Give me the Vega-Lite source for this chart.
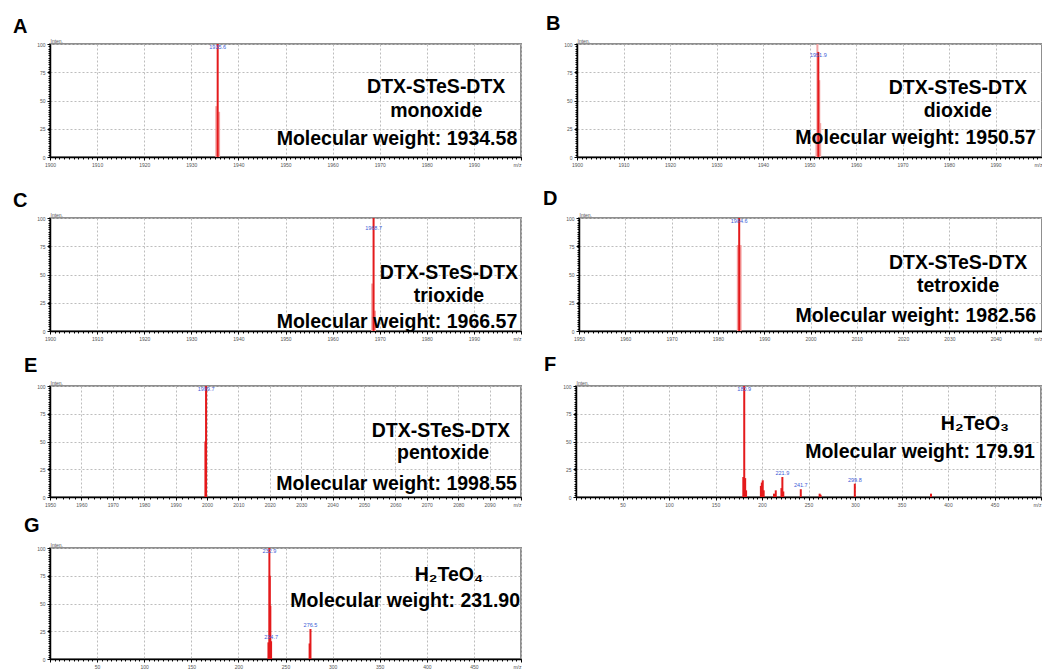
{
  "$schema": "https://vega.github.io/schema/vega-lite/v6.json",
  "background": "white",
  "padding": {"left": 12, "top": 13, "right": 0, "bottom": 0},
  "spacing": 7,
  "datasets": {
    "spectrumA": [
      {"mz": 1935.3, "inten": 45, "kind": "profile", "picked": false},
      {"mz": 1935.9, "inten": 40, "kind": "profile", "picked": false},
      {"mz": 1935.6, "inten": 100, "kind": "centroid", "picked": true}
    ],
    "spectrumB": [
      {"mz": 1951.5, "inten": 20, "kind": "profile", "picked": false},
      {"mz": 1951.7, "inten": 100, "kind": "profile", "picked": false},
      {"mz": 1952.1, "inten": 68, "kind": "profile", "picked": false},
      {"mz": 1952.3, "inten": 30, "kind": "profile", "picked": false},
      {"mz": 1951.9, "inten": 93, "kind": "centroid", "picked": true}
    ],
    "spectrumC": [
      {"mz": 1968.4, "inten": 42, "kind": "profile", "picked": false},
      {"mz": 1969.0, "inten": 18, "kind": "profile", "picked": false},
      {"mz": 1968.7, "inten": 100, "kind": "centroid", "picked": true}
    ],
    "spectrumD": [
      {"mz": 1984.3, "inten": 76, "kind": "profile", "picked": false},
      {"mz": 1984.9, "inten": 76, "kind": "profile", "picked": false},
      {"mz": 1984.6, "inten": 100, "kind": "centroid", "picked": true}
    ],
    "spectrumE": [
      {"mz": 1999.5, "inten": 50, "kind": "centroid", "picked": false},
      {"mz": 1999.7, "inten": 100, "kind": "centroid", "picked": true}
    ],
    "spectrumF": [
      {"mz": 179.9, "inten": 18, "kind": "centroid", "picked": false},
      {"mz": 180.9, "inten": 100, "kind": "centroid", "picked": true},
      {"mz": 181.9, "inten": 17, "kind": "centroid", "picked": false},
      {"mz": 182.9, "inten": 6, "kind": "centroid", "picked": false},
      {"mz": 198.8, "inten": 10, "kind": "centroid", "picked": false},
      {"mz": 199.8, "inten": 13, "kind": "centroid", "picked": false},
      {"mz": 200.8, "inten": 15, "kind": "centroid", "picked": false},
      {"mz": 201.8, "inten": 6, "kind": "centroid", "picked": false},
      {"mz": 212.9, "inten": 3, "kind": "centroid", "picked": false},
      {"mz": 214.8, "inten": 6, "kind": "centroid", "picked": false},
      {"mz": 220.9, "inten": 8, "kind": "centroid", "picked": false},
      {"mz": 221.9, "inten": 18, "kind": "centroid", "picked": true},
      {"mz": 222.9, "inten": 5, "kind": "centroid", "picked": false},
      {"mz": 241.7, "inten": 7, "kind": "centroid", "picked": true},
      {"mz": 262.0, "inten": 3, "kind": "centroid", "picked": false},
      {"mz": 263.0, "inten": 2, "kind": "centroid", "picked": false},
      {"mz": 299.8, "inten": 12, "kind": "centroid", "picked": true},
      {"mz": 381.7, "inten": 3, "kind": "centroid", "picked": false}
    ],
    "spectrumG": [
      {"mz": 231.9, "inten": 15, "kind": "centroid", "picked": false},
      {"mz": 232.9, "inten": 100, "kind": "centroid", "picked": true},
      {"mz": 233.3, "inten": 75, "kind": "centroid", "picked": false},
      {"mz": 233.9, "inten": 48, "kind": "centroid", "picked": false},
      {"mz": 234.7, "inten": 16, "kind": "centroid", "picked": true},
      {"mz": 275.6, "inten": 14, "kind": "centroid", "picked": false},
      {"mz": 276.5, "inten": 27, "kind": "centroid", "picked": true}
    ]
  },
  "vconcat": [
    {
      "bounds": "flush",
      "spacing": 56,
      "hconcat": [
        {
          "width": 471, "height": 113,
          "title": {"text": "A", "dx": -37, "offset": 1},
          "data": {"name": "spectrumA"},
          "resolve": {"axis": {"x": "independent", "y": "independent"}},
          "layer": [
            {
              "mark": {"type": "rule", "strokeWidth": 2},
              "encoding": {
                "x": {"field": "mz", "type": "quantitative", "scale": {"domain": [1900, 2000], "nice": false, "zero": false},
                      "axis": {"orient": "bottom", "values": [1900, 1910, 1920, 1930, 1940, 1950, 1960, 1970, 1980, 1990, 2000], "format": "d", "grid": true, "title": null, "labelExpr": "datum.value == 2000 ? 'm/z' : datum.label", "labelAlign": {"condition": {"test": "datum.value == 2000", "value": "right"}, "value": "center"}}},
                "y": {"field": "inten", "type": "quantitative", "scale": {"domain": [0, 100], "nice": false},
                      "axis": {"orient": "left", "values": [0, 25, 50, 75, 100], "grid": true, "title": "Inten."}},
                "y2": {"datum": 0},
                "color": {"field": "kind", "type": "nominal", "scale": {"domain": ["profile", "centroid"], "range": ["#f4a3a3", "#e41a1c"]}, "legend": null}
              }
            },
            {
              "mark": {"type": "point", "opacity": 0},
              "encoding": {
                "x": {"field": "mz", "type": "quantitative", "axis": {"orient": "bottom", "tickCount": 100, "labels": false, "domain": false, "grid": false, "tickSize": 2, "title": " ", "titleFontSize": 1, "titlePadding": 19}},
                "y": {"field": "inten", "type": "quantitative", "axis": {"orient": "left", "tickCount": 40, "labels": false, "domain": false, "grid": false, "tickSize": 2, "title": null}}
              }
            },
            {
              "transform": [{"filter": "datum.picked && datum.inten >= 90"}],
              "mark": {"type": "text", "style": "peaklabel", "color": "#3b5bd6", "baseline": "top", "dy": 1},
              "encoding": {
                "x": {"field": "mz", "type": "quantitative", "axis": null},
                "y": {"field": "inten", "type": "quantitative", "axis": null},
                "text": {"field": "mz", "type": "quantitative", "format": ".1f"}
              }
            },
            {
              "data": {"values": [{}]},
              "mark": {"type": "text", "style": "note", "text": "DTX-STeS-DTX", "align": "center"},
              "encoding": {"x": {"datum": 1982, "type": "quantitative", "axis": null}, "y": {"datum": 56.6, "type": "quantitative", "axis": null}}
            },
            {
              "data": {"values": [{}]},
              "mark": {"type": "text", "style": "note", "text": "monoxide", "align": "center"},
              "encoding": {"x": {"datum": 1982, "type": "quantitative", "axis": null}, "y": {"datum": 35.4, "type": "quantitative", "axis": null}}
            },
            {
              "data": {"values": [{}]},
              "mark": {"type": "text", "style": "note", "text": "Molecular weight: 1934.58", "align": "right"},
              "encoding": {"x": {"datum": 1999.2, "type": "quantitative", "axis": null}, "y": {"datum": 10.6, "type": "quantitative", "axis": null}}
            }
          ]
        },
        {
          "width": 465, "height": 113,
          "title": {"text": "B", "dx": -31, "offset": 4},
          "data": {"name": "spectrumB"},
          "resolve": {"axis": {"x": "independent", "y": "independent"}},
          "layer": [
            {
              "mark": {"type": "rule", "strokeWidth": 2},
              "encoding": {
                "x": {"field": "mz", "type": "quantitative", "scale": {"domain": [1900, 2000], "nice": false, "zero": false},
                      "axis": {"orient": "bottom", "values": [1900, 1910, 1920, 1930, 1940, 1950, 1960, 1970, 1980, 1990, 2000], "format": "d", "grid": true, "title": null, "labelExpr": "datum.value == 2000 ? 'm/z' : datum.label", "labelAlign": {"condition": {"test": "datum.value == 2000", "value": "right"}, "value": "center"}}},
                "y": {"field": "inten", "type": "quantitative", "scale": {"domain": [0, 100], "nice": false},
                      "axis": {"orient": "left", "values": [0, 25, 50, 75, 100], "grid": true, "title": "Inten."}},
                "y2": {"datum": 0},
                "color": {"field": "kind", "type": "nominal", "scale": {"domain": ["profile", "centroid"], "range": ["#f4a3a3", "#e41a1c"]}, "legend": null}
              }
            },
            {
              "mark": {"type": "point", "opacity": 0},
              "encoding": {
                "x": {"field": "mz", "type": "quantitative", "axis": {"orient": "bottom", "tickCount": 100, "labels": false, "domain": false, "grid": false, "tickSize": 2, "title": " ", "titleFontSize": 1, "titlePadding": 19}},
                "y": {"field": "inten", "type": "quantitative", "axis": {"orient": "left", "tickCount": 40, "labels": false, "domain": false, "grid": false, "tickSize": 2, "title": null}}
              }
            },
            {
              "transform": [{"filter": "datum.picked && datum.inten >= 90"}],
              "mark": {"type": "text", "style": "peaklabel", "color": "#3b5bd6", "baseline": "top", "dy": 1},
              "encoding": {
                "x": {"field": "mz", "type": "quantitative", "axis": null},
                "y": {"field": "inten", "type": "quantitative", "axis": null},
                "text": {"field": "mz", "type": "quantitative", "format": ".1f"}
              }
            },
            {
              "data": {"values": [{}]},
              "mark": {"type": "text", "style": "note", "text": "DTX-STeS-DTX", "align": "center"},
              "encoding": {"x": {"datum": 1981.9, "type": "quantitative", "axis": null}, "y": {"datum": 55.8, "type": "quantitative", "axis": null}}
            },
            {
              "data": {"values": [{}]},
              "mark": {"type": "text", "style": "note", "text": "dioxide", "align": "center"},
              "encoding": {"x": {"datum": 1981.9, "type": "quantitative", "axis": null}, "y": {"datum": 35.4, "type": "quantitative", "axis": null}}
            },
            {
              "data": {"values": [{}]},
              "mark": {"type": "text", "style": "note", "text": "Molecular weight: 1950.57", "align": "right"},
              "encoding": {"x": {"datum": 1998.7, "type": "quantitative", "axis": null}, "y": {"datum": 11.5, "type": "quantitative", "axis": null}}
            }
          ]
        }
      ]
    },
    {
      "bounds": "flush",
      "spacing": 58,
      "hconcat": [
        {
          "width": 471, "height": 113,
          "title": {"text": "C", "dx": -37, "offset": 1},
          "data": {"name": "spectrumC"},
          "resolve": {"axis": {"x": "independent", "y": "independent"}},
          "layer": [
            {
              "mark": {"type": "rule", "strokeWidth": 2},
              "encoding": {
                "x": {"field": "mz", "type": "quantitative", "scale": {"domain": [1900, 2000], "nice": false, "zero": false},
                      "axis": {"orient": "bottom", "values": [1900, 1910, 1920, 1930, 1940, 1950, 1960, 1970, 1980, 1990, 2000], "format": "d", "grid": true, "title": null, "labelExpr": "datum.value == 2000 ? 'm/z' : datum.label", "labelAlign": {"condition": {"test": "datum.value == 2000", "value": "right"}, "value": "center"}}},
                "y": {"field": "inten", "type": "quantitative", "scale": {"domain": [0, 100], "nice": false},
                      "axis": {"orient": "left", "values": [0, 25, 50, 75, 100], "grid": true, "title": "Inten."}},
                "y2": {"datum": 0},
                "color": {"field": "kind", "type": "nominal", "scale": {"domain": ["profile", "centroid"], "range": ["#f4a3a3", "#e41a1c"]}, "legend": null}
              }
            },
            {
              "mark": {"type": "point", "opacity": 0},
              "encoding": {
                "x": {"field": "mz", "type": "quantitative", "axis": {"orient": "bottom", "tickCount": 100, "labels": false, "domain": false, "grid": false, "tickSize": 2, "title": " ", "titleFontSize": 1, "titlePadding": 11}},
                "y": {"field": "inten", "type": "quantitative", "axis": {"orient": "left", "tickCount": 40, "labels": false, "domain": false, "grid": false, "tickSize": 2, "title": null}}
              }
            },
            {
              "transform": [{"filter": "datum.picked && datum.inten >= 90"}],
              "mark": {"type": "text", "style": "peaklabel", "color": "#3b5bd6", "baseline": "top", "dy": 8},
              "encoding": {
                "x": {"field": "mz", "type": "quantitative", "axis": null},
                "y": {"field": "inten", "type": "quantitative", "axis": null},
                "text": {"field": "mz", "type": "quantitative", "format": ".1f"}
              }
            },
            {
              "data": {"values": [{}]},
              "mark": {"type": "text", "style": "note", "text": "DTX-STeS-DTX", "align": "center"},
              "encoding": {"x": {"datum": 1984.7, "type": "quantitative", "axis": null}, "y": {"datum": 46, "type": "quantitative", "axis": null}}
            },
            {
              "data": {"values": [{}]},
              "mark": {"type": "text", "style": "note", "text": "trioxide", "align": "center"},
              "encoding": {"x": {"datum": 1984.7, "type": "quantitative", "axis": null}, "y": {"datum": 25.7, "type": "quantitative", "axis": null}}
            },
            {
              "data": {"values": [{}]},
              "mark": {"type": "text", "style": "note", "text": "Molecular weight: 1966.57", "align": "right"},
              "encoding": {"x": {"datum": 1999.2, "type": "quantitative", "axis": null}, "y": {"datum": 2.7, "type": "quantitative", "axis": null}}
            }
          ]
        },
        {
          "width": 463, "height": 113,
          "title": {"text": "D", "dx": -36, "offset": 3},
          "data": {"name": "spectrumD"},
          "resolve": {"axis": {"x": "independent", "y": "independent"}},
          "layer": [
            {
              "mark": {"type": "rule", "strokeWidth": 2},
              "encoding": {
                "x": {"field": "mz", "type": "quantitative", "scale": {"domain": [1950, 2050], "nice": false, "zero": false},
                      "axis": {"orient": "bottom", "values": [1950, 1960, 1970, 1980, 1990, 2000, 2010, 2020, 2030, 2040, 2050], "format": "d", "grid": true, "title": null, "labelExpr": "datum.value == 2050 ? 'm/z' : datum.label", "labelAlign": {"condition": {"test": "datum.value == 2050", "value": "right"}, "value": "center"}}},
                "y": {"field": "inten", "type": "quantitative", "scale": {"domain": [0, 100], "nice": false},
                      "axis": {"orient": "left", "values": [0, 25, 50, 75, 100], "grid": true, "title": "Inten."}},
                "y2": {"datum": 0},
                "color": {"field": "kind", "type": "nominal", "scale": {"domain": ["profile", "centroid"], "range": ["#f4a3a3", "#e41a1c"]}, "legend": null}
              }
            },
            {
              "mark": {"type": "point", "opacity": 0},
              "encoding": {
                "x": {"field": "mz", "type": "quantitative", "axis": {"orient": "bottom", "tickCount": 100, "labels": false, "domain": false, "grid": false, "tickSize": 2, "title": " ", "titleFontSize": 1, "titlePadding": 11}},
                "y": {"field": "inten", "type": "quantitative", "axis": {"orient": "left", "tickCount": 40, "labels": false, "domain": false, "grid": false, "tickSize": 2, "title": null}}
              }
            },
            {
              "transform": [{"filter": "datum.picked && datum.inten >= 90"}],
              "mark": {"type": "text", "style": "peaklabel", "color": "#3b5bd6", "baseline": "top", "dy": 1},
              "encoding": {
                "x": {"field": "mz", "type": "quantitative", "axis": null},
                "y": {"field": "inten", "type": "quantitative", "axis": null},
                "text": {"field": "mz", "type": "quantitative", "format": ".1f"}
              }
            },
            {
              "data": {"values": [{}]},
              "mark": {"type": "text", "style": "note", "text": "DTX-STeS-DTX", "align": "center"},
              "encoding": {"x": {"datum": 2031.9, "type": "quantitative", "axis": null}, "y": {"datum": 54.9, "type": "quantitative", "axis": null}}
            },
            {
              "data": {"values": [{}]},
              "mark": {"type": "text", "style": "note", "text": "tetroxide", "align": "center"},
              "encoding": {"x": {"datum": 2031.9, "type": "quantitative", "axis": null}, "y": {"datum": 34.5, "type": "quantitative", "axis": null}}
            },
            {
              "data": {"values": [{}]},
              "mark": {"type": "text", "style": "note", "text": "Molecular weight: 1982.56", "align": "right"},
              "encoding": {"x": {"datum": 2048.7, "type": "quantitative", "axis": null}, "y": {"datum": 8, "type": "quantitative", "axis": null}}
            }
          ]
        }
      ]
    },
    {
      "bounds": "flush",
      "spacing": 55,
      "hconcat": [
        {
          "width": 471, "height": 111,
          "title": {"text": "E", "dx": -26, "offset": 4},
          "data": {"name": "spectrumE"},
          "resolve": {"axis": {"x": "independent", "y": "independent"}},
          "layer": [
            {
              "mark": {"type": "rule", "strokeWidth": 2},
              "encoding": {
                "x": {"field": "mz", "type": "quantitative", "scale": {"domain": [1950, 2100], "nice": false, "zero": false},
                      "axis": {"orient": "bottom", "values": [1950, 1960, 1970, 1980, 1990, 2000, 2010, 2020, 2030, 2040, 2050, 2060, 2070, 2080, 2090, 2100], "format": "d", "grid": true, "title": null, "labelExpr": "datum.value == 2100 ? 'm/z' : datum.label", "labelAlign": {"condition": {"test": "datum.value == 2100", "value": "right"}, "value": "center"}}},
                "y": {"field": "inten", "type": "quantitative", "scale": {"domain": [0, 100], "nice": false},
                      "axis": {"orient": "left", "values": [0, 25, 50, 75, 100], "grid": true, "title": "Inten."}},
                "y2": {"datum": 0},
                "color": {"field": "kind", "type": "nominal", "scale": {"domain": ["profile", "centroid"], "range": ["#f4a3a3", "#e41a1c"]}, "legend": null}
              }
            },
            {
              "mark": {"type": "point", "opacity": 0},
              "encoding": {
                "x": {"field": "mz", "type": "quantitative", "axis": {"orient": "bottom", "tickCount": 75, "labels": false, "domain": false, "grid": false, "tickSize": 2, "title": null}},
                "y": {"field": "inten", "type": "quantitative", "axis": {"orient": "left", "tickCount": 40, "labels": false, "domain": false, "grid": false, "tickSize": 2, "title": null}}
              }
            },
            {
              "transform": [{"filter": "datum.picked && datum.inten >= 90"}],
              "mark": {"type": "text", "style": "peaklabel", "color": "#3b5bd6", "baseline": "top", "dy": 1},
              "encoding": {
                "x": {"field": "mz", "type": "quantitative", "axis": null},
                "y": {"field": "inten", "type": "quantitative", "axis": null},
                "text": {"field": "mz", "type": "quantitative", "format": ".1f"}
              }
            },
            {
              "data": {"values": [{}]},
              "mark": {"type": "text", "style": "note", "text": "DTX-STeS-DTX", "align": "center"},
              "encoding": {"x": {"datum": 2074.5, "type": "quantitative", "axis": null}, "y": {"datum": 54.1, "type": "quantitative", "axis": null}}
            },
            {
              "data": {"values": [{}]},
              "mark": {"type": "text", "style": "note", "text": "pentoxide", "align": "center"},
              "encoding": {"x": {"datum": 2075.2, "type": "quantitative", "axis": null}, "y": {"datum": 34.2, "type": "quantitative", "axis": null}}
            },
            {
              "data": {"values": [{}]},
              "mark": {"type": "text", "style": "note", "text": "Molecular weight: 1998.55", "align": "right"},
              "encoding": {"x": {"datum": 2098.7, "type": "quantitative", "axis": null}, "y": {"datum": 6.3, "type": "quantitative", "axis": null}}
            }
          ]
        },
        {
          "width": 465, "height": 111,
          "title": {"text": "F", "dx": -32, "offset": 5},
          "data": {"name": "spectrumF"},
          "resolve": {"axis": {"x": "independent", "y": "independent"}},
          "layer": [
            {
              "mark": {"type": "rule", "strokeWidth": 2},
              "encoding": {
                "x": {"field": "mz", "type": "quantitative", "scale": {"domain": [0, 500], "nice": false, "zero": false},
                      "axis": {"orient": "bottom", "values": [0, 50, 100, 150, 200, 250, 300, 350, 400, 450, 500], "format": "d", "grid": true, "title": null, "labelExpr": "datum.value == 0 ? '' : datum.value == 500 ? 'm/z' : datum.label", "labelAlign": {"condition": {"test": "datum.value == 500", "value": "right"}, "value": "center"}}},
                "y": {"field": "inten", "type": "quantitative", "scale": {"domain": [0, 100], "nice": false},
                      "axis": {"orient": "left", "values": [0, 25, 50, 75, 100], "grid": true, "title": "Inten."}},
                "y2": {"datum": 0},
                "color": {"field": "kind", "type": "nominal", "scale": {"domain": ["profile", "centroid"], "range": ["#f4a3a3", "#e41a1c"]}, "legend": null}
              }
            },
            {
              "mark": {"type": "point", "opacity": 0},
              "encoding": {
                "x": {"field": "mz", "type": "quantitative", "axis": {"orient": "bottom", "tickCount": 100, "labels": false, "domain": false, "grid": false, "tickSize": 2, "title": null}},
                "y": {"field": "inten", "type": "quantitative", "axis": {"orient": "left", "tickCount": 40, "labels": false, "domain": false, "grid": false, "tickSize": 2, "title": null}}
              }
            },
            {
              "transform": [{"filter": "datum.picked && datum.inten >= 90"}],
              "mark": {"type": "text", "style": "peaklabel", "color": "#3b5bd6", "baseline": "top", "dy": 1},
              "encoding": {
                "x": {"field": "mz", "type": "quantitative", "axis": null},
                "y": {"field": "inten", "type": "quantitative", "axis": null},
                "text": {"field": "mz", "type": "quantitative", "format": ".1f"}
              }
            },
            {
              "transform": [{"filter": "datum.picked && datum.inten < 90"}],
              "mark": {"type": "text", "style": "peaklabel", "color": "#3b5bd6", "baseline": "bottom", "dy": -1},
              "encoding": {
                "x": {"field": "mz", "type": "quantitative", "axis": null},
                "y": {"field": "inten", "type": "quantitative", "axis": null},
                "text": {"field": "mz", "type": "quantitative", "format": ".1f"}
              }
            },
            {
              "data": {"values": [{}]},
              "mark": {"type": "text", "style": "note", "text": "H₂TeO₃", "align": "center"},
              "encoding": {"x": {"datum": 429, "type": "quantitative", "axis": null}, "y": {"datum": 60.4, "type": "quantitative", "axis": null}}
            },
            {
              "data": {"values": [{}]},
              "mark": {"type": "text", "style": "note", "text": "Molecular weight: 179.91", "align": "right"},
              "encoding": {"x": {"datum": 493.5, "type": "quantitative", "axis": null}, "y": {"datum": 35.1, "type": "quantitative", "axis": null}}
            }
          ]
        }
      ]
    },
    {
      "bounds": "flush",
      "hconcat": [
        {
          "width": 471, "height": 111,
          "title": {"text": "G", "dx": -26, "offset": 6},
          "data": {"name": "spectrumG"},
          "resolve": {"axis": {"x": "independent", "y": "independent"}},
          "layer": [
            {
              "mark": {"type": "rule", "strokeWidth": 2},
              "encoding": {
                "x": {"field": "mz", "type": "quantitative", "scale": {"domain": [0, 500], "nice": false, "zero": false},
                      "axis": {"orient": "bottom", "values": [0, 50, 100, 150, 200, 250, 300, 350, 400, 450, 500], "format": "d", "grid": true, "title": null, "labelExpr": "datum.value == 0 ? '' : datum.value == 500 ? 'm/z' : datum.label", "labelAlign": {"condition": {"test": "datum.value == 500", "value": "right"}, "value": "center"}}},
                "y": {"field": "inten", "type": "quantitative", "scale": {"domain": [0, 100], "nice": false},
                      "axis": {"orient": "left", "values": [0, 25, 50, 75, 100], "grid": true, "title": "Inten."}},
                "y2": {"datum": 0},
                "color": {"field": "kind", "type": "nominal", "scale": {"domain": ["profile", "centroid"], "range": ["#f4a3a3", "#e41a1c"]}, "legend": null}
              }
            },
            {
              "mark": {"type": "point", "opacity": 0},
              "encoding": {
                "x": {"field": "mz", "type": "quantitative", "axis": {"orient": "bottom", "tickCount": 100, "labels": false, "domain": false, "grid": false, "tickSize": 2, "title": null}},
                "y": {"field": "inten", "type": "quantitative", "axis": {"orient": "left", "tickCount": 40, "labels": false, "domain": false, "grid": false, "tickSize": 2, "title": null}}
              }
            },
            {
              "transform": [{"filter": "datum.picked && datum.inten >= 90"}],
              "mark": {"type": "text", "style": "peaklabel", "color": "#3b5bd6", "baseline": "top", "dy": 1},
              "encoding": {
                "x": {"field": "mz", "type": "quantitative", "axis": null},
                "y": {"field": "inten", "type": "quantitative", "axis": null},
                "text": {"field": "mz", "type": "quantitative", "format": ".1f"}
              }
            },
            {
              "transform": [{"filter": "datum.picked && datum.inten < 90"}],
              "mark": {"type": "text", "style": "peaklabel", "color": "#3b5bd6", "baseline": "bottom", "dy": -1},
              "encoding": {
                "x": {"field": "mz", "type": "quantitative", "axis": null},
                "y": {"field": "inten", "type": "quantitative", "axis": null},
                "text": {"field": "mz", "type": "quantitative", "format": ".1f"}
              }
            },
            {
              "data": {"values": [{}]},
              "mark": {"type": "text", "style": "note", "text": "H₂TeO₄", "align": "center"},
              "encoding": {"x": {"datum": 423.6, "type": "quantitative", "axis": null}, "y": {"datum": 70.3, "type": "quantitative", "axis": null}}
            },
            {
              "data": {"values": [{}]},
              "mark": {"type": "text", "style": "note", "text": "Molecular weight: 231.90", "align": "right"},
              "encoding": {"x": {"datum": 499, "type": "quantitative", "axis": null}, "y": {"datum": 46.8, "type": "quantitative", "axis": null}}
            }
          ]
        }
      ]
    }
  ],
  "config": {
    "view": {"stroke": "#8f8f8f", "strokeWidth": 2},
    "title": {"anchor": "start", "frame": "group", "fontSize": 20, "fontWeight": "bold", "font": "Liberation Sans", "color": "#000000"},
    "axis": {
      "labelFont": "Liberation Sans",
      "labelFontSize": 5,
      "labelColor": "#555555",
      "labelPadding": 2,
      "labelFlush": false,
      "labelOverlap": false,
      "domainColor": "#000000",
      "domainWidth": 1.5,
      "tickColor": "#000000",
      "tickSize": 3,
      "gridColor": "#bdbdbd",
      "gridDash": [2, 2],
      "gridWidth": 1,
      "titleFont": "Liberation Sans",
      "titleFontSize": 5,
      "titleFontWeight": "normal",
      "titleColor": "#555555"
    },
    "axisLeft": {"titleAngle": 0, "titleX": 0, "titleY": -1, "titleAlign": "left", "titleBaseline": "bottom"},
    "style": {
      "note": {"font": "Liberation Sans", "fontSize": 19.5, "fontWeight": "bold", "fill": "#303030", "baseline": "alphabetic"},
      "peaklabel": {"font": "Liberation Sans", "fontSize": 5.5, "fill": "#3b5bd6", "align": "center"}
    }
  }
}
